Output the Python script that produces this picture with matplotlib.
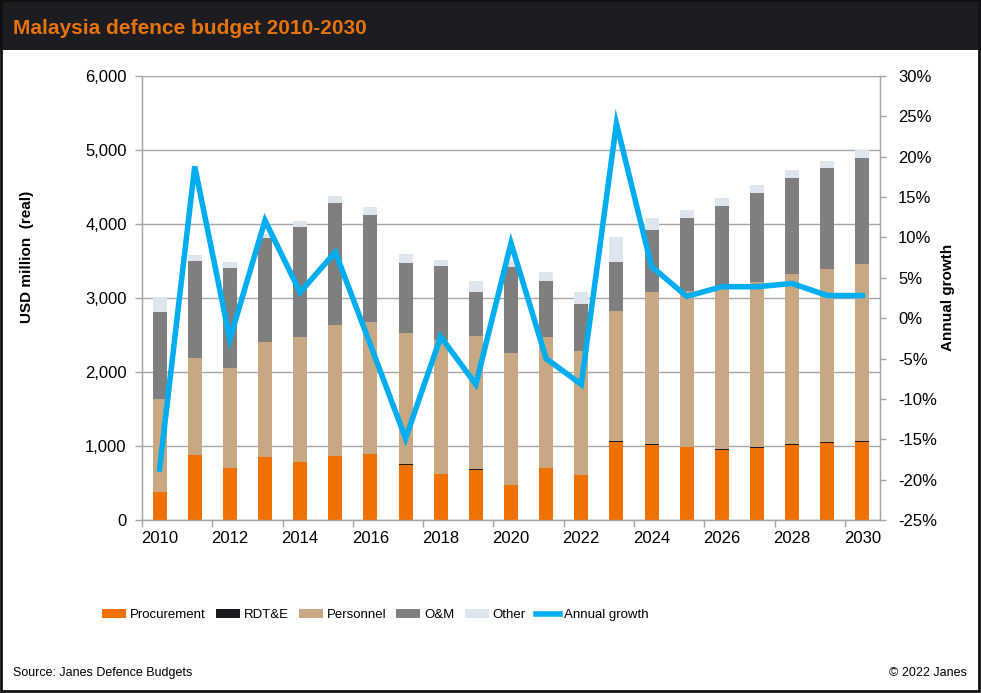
import matplotlib
matplotlib.use("Agg")
import matplotlib.pyplot as plt
import numpy as np
from matplotlib.patches import Rectangle, Patch
from matplotlib.lines import Line2D
from matplotlib.ticker import FuncFormatter, FixedLocator

plt.rcParams['font.family'] = ['Liberation Sans', 'DejaVu Sans']

years = list(range(2010, 2031))
procurement = [383, 878, 707, 851, 788, 865, 892, 737, 626, 670, 473, 703, 613, 1053, 1010, 991, 943, 970, 1015, 1038, 1051]
rdte = [0, 0, 0, 0, 0, 0, 0, 15, 0, 15, 0, 0, 0, 15, 12, 0, 12, 12, 12, 12, 12]
personnel = [1257, 1311, 1347, 1554, 1685, 1770, 1784, 1780, 1804, 1806, 1784, 1766, 1671, 1756, 2059, 2104, 2175, 2234, 2297, 2342, 2396]
om = [1175, 1311, 1356, 1410, 1491, 1649, 1446, 946, 1007, 590, 1166, 761, 635, 662, 838, 986, 1113, 1203, 1298, 1369, 1433]
other = [194, 77, 76, 45, 77, 94, 103, 117, 77, 149, 77, 117, 162, 338, 162, 108, 108, 108, 108, 90, 108]
growth = [-18.7, 18.8, -2.6, 12.1, 3.2, 8.2, -3.3, -14.9, -2.3, -8.2, 9.3, -5.0, -8.2, 24.1, 6.4, 2.7, 3.9, 3.9, 4.3, 2.8, 2.8]

series = [("Procurement", procurement, "#F07000"),
          ("RDT&E", rdte, "#1A1A1F"),
          ("Personnel", personnel, "#C8A882"),
          ("O&M", om, "#7F7F7F"),
          ("Other", other, "#DDE6EE")]
line_color = "#00AEEF"
grey = "#A6A6A6"

W, H = 981, 693
fig = plt.figure(figsize=(W / 100, H / 100), dpi=100)
fig.patch.set_facecolor("white")

# header band
fig.patches.append(Rectangle((0, 1 - 50 / H), 1, 50 / H, transform=fig.transFigure,
                             facecolor="#1C1C21", edgecolor="none", zorder=0))
fig.text(13 / W, 1 - 28 / H, "Malaysia defence budget 2010-2030", color="#E8730C",
         fontsize=15, fontweight="bold", va="center", ha="left")
# frame
fig.patches.append(Rectangle((1 / W, 2 / H), (W - 3) / W, (H - 2) / H, transform=fig.transFigure,
                             facecolor="none", edgecolor="#111111", linewidth=2, zorder=0))

ax = fig.add_axes([142 / W, 1 - 520 / H, (880 - 142) / W, (520 - 76) / H])
x = np.arange(len(years))
bottom = np.zeros(len(years))
handles = []
for name, vals, col in series:
    v = np.array(vals, dtype=float)
    ax.bar(x, v, width=0.4, bottom=bottom, color=col, edgecolor="none", zorder=2)
    bottom += v
    handles.append(Patch(facecolor=col, edgecolor="none", label=name))

ax.set_xlim(-0.5, len(years) - 0.5)
ax.set_ylim(0, 6000)
ax.set_yticks(np.arange(0, 6001, 1000))
ax.yaxis.set_major_formatter(FuncFormatter(lambda v, p: f"{int(v):,}"))
ax.set_axisbelow(True)
ax.yaxis.grid(True, color=grey, linewidth=1)
ax.set_xticks(x[::2])
ax.set_xticklabels([str(y) for y in years[::2]])
ax.xaxis.set_minor_locator(FixedLocator(np.arange(-0.5, len(years), 2)))
ax.tick_params(axis="x", which="major", length=0, pad=8, labelsize=12)
ax.tick_params(axis="x", which="minor", length=5, color=grey, width=1)
ax.tick_params(axis="y", length=5, color=grey, width=1, pad=6, labelsize=12)
ax.spines["top"].set_visible(False)
for s in ["left", "bottom", "right"]:
    ax.spines[s].set_color(grey)
    ax.spines[s].set_linewidth(1)

ax2 = ax.twinx()
ax2.plot(x, growth, color=line_color, linewidth=4, solid_joinstyle="miter", zorder=3)
ax2.set_ylim(-25, 30)
ax2.set_yticks(np.arange(-25, 31, 5))
ax2.yaxis.set_major_formatter(FuncFormatter(lambda v, p: f"{int(round(v))}%"))
ax2.tick_params(axis="y", length=4, color=grey, width=1, pad=9, labelsize=12)
ax2.spines["top"].set_visible(False)
for s in ["left", "bottom", "right"]:
    ax2.spines[s].set_color(grey)
ax2.set_xlim(-0.5, len(years) - 0.5)

fig.text(27 / W, 1 - 257 / H, "USD million  (real)", rotation=90, fontsize=11,
         fontweight="bold", ha="center", va="center")
fig.text(948 / W, 1 - 297 / H, "Annual growth", rotation=90, fontsize=11,
         fontweight="bold", ha="center", va="center")

handles.append(Line2D([0], [0], color=line_color, linewidth=4, label="Annual growth"))
leg_fs = 9.5
em = leg_fs * 100 / 72
fig.legend(handles=handles, loc="center left", bbox_to_anchor=(102 / W, 1 - 615 / H),
           ncol=6, frameon=False, borderpad=0, borderaxespad=0,
           handlelength=24 / em, handleheight=0.6, handletextpad=4 / em,
           columnspacing=10 / em, fontsize=leg_fs)

fig.text(13 / W, 1 - 673 / H, "Source: Janes Defence Budgets", fontsize=9, ha="left", va="center")
fig.text(967 / W, 1 - 673 / H, "\u00a9 2022 Janes", fontsize=9, ha="right", va="center")

fig.savefig("out.png", dpi=100)
